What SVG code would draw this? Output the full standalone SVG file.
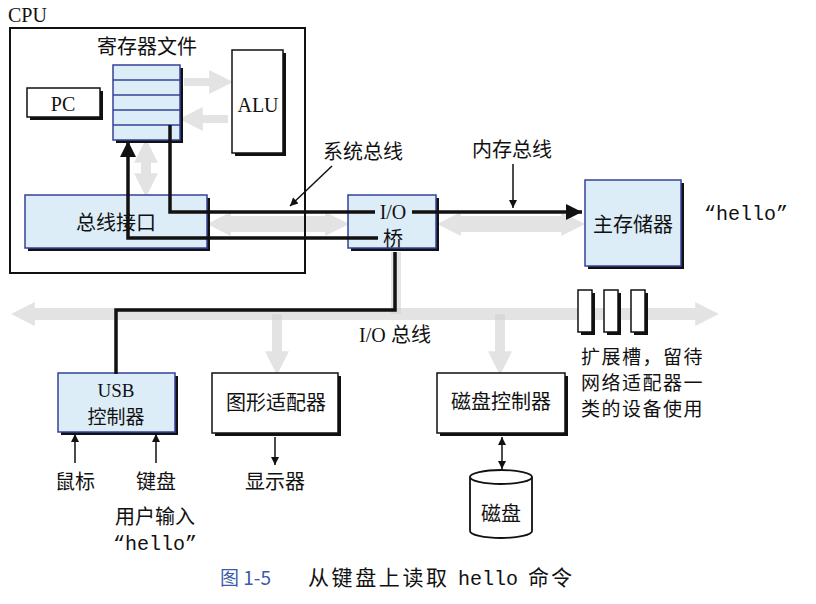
<svg xmlns="http://www.w3.org/2000/svg" width="816" height="604" viewBox="0 0 816 604">
<style>
.cjk{font-family:"Noto Sans CJK SC","Noto Sans",sans-serif;font-size:20px;fill:#111}
.lat{font-family:"Liberation Serif",serif;font-size:20px;fill:#111}
.mono{font-family:"Liberation Mono",monospace;font-size:20px;fill:#111}
.mid{text-anchor:middle}
.shadow{fill:#111}
.blue{fill:#dcedf8;stroke:#34419a;stroke-width:1.5}
.white{fill:#fff;stroke:#111;stroke-width:1.5}
.wire{fill:none;stroke:#111;stroke-width:3.5}
.thin{fill:none;stroke:#111;stroke-width:1.5}
.faded{fill:none;stroke:#d2d2d2;opacity:0.6}
</style>
<defs>
<marker id="ah" viewBox="0 0 10 10" refX="10" refY="5" markerWidth="22" markerHeight="16" markerUnits="userSpaceOnUse" orient="auto-start-reverse"><path d="M0,0 L10,5 L0,10 Z" fill="#111"/></marker>
<marker id="as" viewBox="0 0 10 10" refX="10" refY="5" markerWidth="10" markerHeight="8" markerUnits="userSpaceOnUse" orient="auto-start-reverse"><path d="M0,0 L10,5 L0,10 Z" fill="#111"/></marker>
<marker id="ag" viewBox="0 0 10 10" refX="2" refY="5" markerWidth="24" markerHeight="24" markerUnits="userSpaceOnUse" orient="auto-start-reverse"><path d="M0,0 L10,5 L0,10 Z" fill="#d2d2d2"/></marker>
</defs>
<rect width="816" height="604" fill="#fff"/>

<g id="faded-buses">
<path class="faded" stroke-width="8" d="M184,82 H214" marker-end="url(#ag)"/>
<path class="faded" stroke-width="8" d="M228,119 H198" marker-end="url(#ag)"/>
<path class="faded" stroke-width="10" d="M146,158 V178" marker-start="url(#ag)" marker-end="url(#ag)"/>
<path class="faded" stroke-width="16" d="M226,224 H330" marker-start="url(#ag)" marker-end="url(#ag)"/>
<path class="faded" stroke-width="16" d="M456,224 H566" marker-start="url(#ag)" marker-end="url(#ag)"/>
<path class="faded" stroke-width="12" d="M30,314 H700" marker-start="url(#ag)" marker-end="url(#ag)"/>
<path class="faded" stroke-width="10" d="M396,252 V314"/>
<path class="faded" stroke-width="10" d="M277,314 V356" marker-end="url(#ag)"/>
<path class="faded" stroke-width="10" d="M500,314 V356" marker-end="url(#ag)"/>
</g>

<g id="cpu">
<text class="lat" x="8" y="22">CPU</text>
<rect x="10" y="28" width="295" height="245" fill="none" stroke="#111" stroke-width="2"/>
</g>

<g id="regfile">
<text class="cjk mid" x="147" y="54">寄存器文件</text>
<rect class="shadow" x="116" y="68" width="67" height="75"/>
<rect x="113" y="65" width="67" height="75" fill="#dcedf8" stroke="#34419a" stroke-width="1.5"/>
<path d="M113,80 H180 M113,95 H180 M113,110 H180 M113,125 H180" stroke="#34419a" stroke-width="1.5"/>
</g>

<g id="pc">
<rect class="shadow" x="30" y="91" width="73" height="29"/>
<rect class="white" x="27" y="88" width="73" height="29"/>
<text class="lat mid" x="63" y="111">PC</text>
</g>

<g id="alu">
<rect class="shadow" x="235" y="53" width="51" height="103"/>
<rect class="white" x="232" y="50" width="51" height="103"/>
<text class="lat mid" x="258" y="112">ALU</text>
</g>

<g id="bus-interface">
<rect class="shadow" x="28" y="198" width="182" height="53"/>
<rect class="blue" x="25" y="195" width="182" height="53"/>
<text class="cjk mid" x="116" y="230">总线接口</text>
</g>

<g id="io-bridge">
<rect class="shadow" x="351" y="198" width="88" height="53"/>
<rect class="blue" x="348" y="195" width="88" height="53"/>
<text class="lat mid" x="393" y="219">I/O</text>
<text class="cjk mid" x="393" y="246">桥</text>
</g>

<g id="main-memory">
<rect class="shadow" x="588" y="183" width="96" height="86"/>
<rect class="blue" x="585" y="180" width="96" height="86"/>
<text class="cjk mid" x="633" y="232">主存储器</text>
<text class="mono" x="704" y="220">“hello”</text>
</g>

<g id="expansion-slots">
<rect class="shadow" x="581" y="293" width="14" height="42"/>
<rect class="white" x="578" y="290" width="14" height="42"/>
<rect class="shadow" x="607" y="293" width="14" height="42"/>
<rect class="white" x="604" y="290" width="14" height="42"/>
<rect class="shadow" x="634" y="293" width="14" height="42"/>
<rect class="white" x="631" y="290" width="14" height="42"/>
<text class="cjk" x="581" y="364" style="font-size:19px;letter-spacing:1.5px">扩展槽，留待</text>
<text class="cjk" x="581" y="390" style="font-size:19px;letter-spacing:1.5px">网络适配器一</text>
<text class="cjk" x="581" y="416" style="font-size:19px;letter-spacing:1.5px">类的设备使用</text>
</g>

<g id="usb">
<rect class="shadow" x="61" y="376" width="117" height="59"/>
<rect class="blue" x="58" y="373" width="117" height="59"/>
<text class="lat mid" x="116" y="397" style="font-size:19px">USB</text>
<text class="cjk mid" x="116" y="424" style="font-size:19px">控制器</text>
<text class="cjk mid" x="75" y="489">鼠标</text>
<text class="cjk mid" x="156" y="489">键盘</text>
<text class="cjk mid" x="155" y="524">用户输入</text>
<text class="mono mid" x="155" y="550">“hello”</text>
</g>

<g id="graphics">
<rect class="shadow" x="215" y="376" width="126" height="60"/>
<rect class="white" x="212" y="373" width="126" height="60"/>
<text class="cjk mid" x="276" y="410">图形适配器</text>
<text class="cjk mid" x="275" y="489">显示器</text>
</g>

<g id="disk-controller">
<rect class="shadow" x="440" y="376" width="128" height="60"/>
<rect class="white" x="437" y="373" width="128" height="60"/>
<text class="cjk mid" x="501" y="409">磁盘控制器</text>
</g>

<g id="disk">
<path d="M470,477 A31,7 0 0 1 532,477 V531 A31,7 0 0 1 470,531 Z" fill="#fff" stroke="#111" stroke-width="1.8"/>
<path d="M470,477 A31,7 0 0 0 532,477" fill="none" stroke="#111" stroke-width="1.8"/>
<text class="cjk mid" x="501" y="521">磁盘</text>
</g>

<g id="labels">
<text class="cjk mid" x="363" y="159">系统总线</text>
<text class="cjk mid" x="512" y="157">内存总线</text>
<text class="lat" x="359" y="342">I/O</text>
<text class="cjk" x="391" y="342">总线</text>
</g>

<g id="connectors">
<path class="wire" d="M170,125 V212 H375"/>
<path class="wire" d="M412,212 H582" marker-end="url(#ah)"/>
<path class="wire" d="M378,238 H128 V141" marker-end="url(#ah)"/>
<path class="wire" d="M395,252 V310 H116 V374"/>
<path class="thin" d="M332,166 L290,206" marker-end="url(#as)"/>
<path class="thin" d="M513,164 V208" marker-end="url(#as)"/>
<path class="thin" d="M75,463 V434" marker-end="url(#as)"/>
<path class="thin" d="M156,463 V434" marker-end="url(#as)"/>
<path class="thin" d="M275,437 V465" marker-end="url(#as)"/>
<path class="thin" d="M502,437 V469" marker-start="url(#as)" marker-end="url(#as)"/>
</g>

<g id="caption">
<text x="220" y="585" style="font-family:'Noto Sans CJK SC',sans-serif;font-size:19px;fill:#3b5ba8">图 1-5</text>
<text x="308" y="585" style="font-family:'Noto Sans CJK SC',sans-serif;font-size:21px;letter-spacing:2.6px;fill:#111">从键盘上读取</text>
<text x="458" y="585" style="font-family:'Liberation Mono',monospace;font-size:20px;fill:#111">hello</text>
<text x="528" y="585" style="font-family:'Noto Sans CJK SC',sans-serif;font-size:21px;letter-spacing:2px;fill:#111">命令</text>
</g>
</svg>
